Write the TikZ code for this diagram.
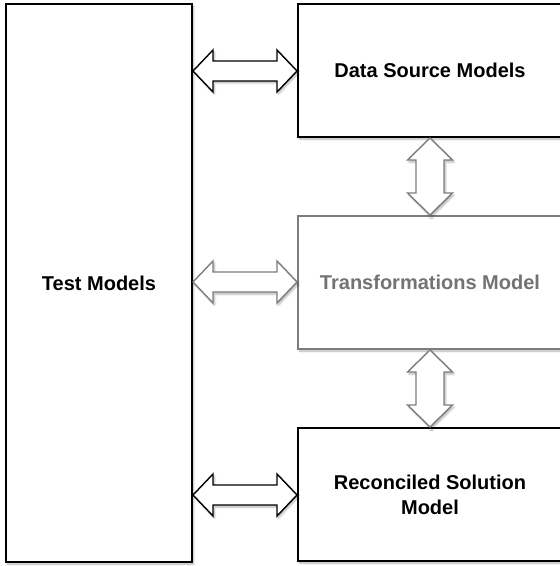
\documentclass[tikz,border=0pt]{standalone}
\usepackage{fontspec}
\setmainfont{Liberation Sans}
\usetikzlibrary{calc,shadows.blur}
\definecolor{boxgray}{RGB}{125,125,125}
\definecolor{textgray}{RGB}{115,115,115}
\tikzset{
  modelbox/.style={draw=black, line width=2bp, fill=white, rectangle, inner sep=0pt,
    font=\fontsize{20bp}{25bp}\selectfont\bfseries, align=center,
    blur shadow={shadow xshift=1.5bp, shadow yshift=-2bp, shadow blur steps=6, shadow opacity=30, shadow blur radius=2bp}},
  graybox/.style={modelbox, draw=boxgray, text=textgray},
  arrowshape/.style={draw=black, fill=white, line width=1.4bp, line join=miter,
    blur shadow={shadow xshift=1.5bp, shadow yshift=-2bp, shadow blur steps=6, shadow opacity=30, shadow blur radius=2bp}},
  grayarrow/.style={arrowshape, draw=boxgray},
}
\newcommand{\harr}[3]{%
  \draw[#1] (#2) -- ($(#2)+(20,-21)$) -- ($(#2)+(20,-10)$) -- ($(#3)+(-20,-10)$)
    -- ($(#3)+(-20,-21)$) -- (#3) -- ($(#3)+(-20,21)$) -- ($(#3)+(-20,10)$)
    -- ($(#2)+(20,10)$) -- ($(#2)+(20,21)$) -- cycle;}
\newcommand{\varr}[3]{%
  \draw[#1] (#2) -- ($(#2)+(22.5,22)$) -- ($(#2)+(14,22)$) -- ($(#3)+(14,-22)$)
    -- ($(#3)+(22.5,-22)$) -- (#3) -- ($(#3)+(-22.5,-22)$) -- ($(#3)+(-14,-22)$)
    -- ($(#2)+(-14,22)$) -- ($(#2)+(-22.5,22)$) -- cycle;}
\begin{document}
\begin{tikzpicture}[x=1bp,y=-1bp]
  \useasboundingbox (0,0) rectangle (560,566);
  \clip (0,0) rectangle (560,566);
  \node[modelbox, minimum width=186bp, minimum height=558bp] (test) at (99,283) {Test Models};
  \node[modelbox, minimum width=264bp, minimum height=133bp] (ds) at (430,70.5) {Data Source Models};
  \node[graybox, minimum width=264bp, minimum height=133bp] (tr) at (430,282.5) {Transformations Model};
  \node[modelbox, minimum width=264bp, minimum height=133bp] (rc) at (430,494.5) {Reconciled Solution\\Model};
  \coordinate (y1) at (0,71);
  \coordinate (y2) at (0,282);
  \coordinate (y3) at (0,495);
  \harr{arrowshape}{test.east |- y1}{ds.west |- y1}
  \harr{grayarrow}{test.east |- y2}{tr.west |- y2}
  \harr{arrowshape}{test.east |- y3}{rc.west |- y3}
  \varr{grayarrow}{ds.south}{tr.north}
  \varr{grayarrow}{tr.south}{rc.north}
\end{tikzpicture}
\end{document}
